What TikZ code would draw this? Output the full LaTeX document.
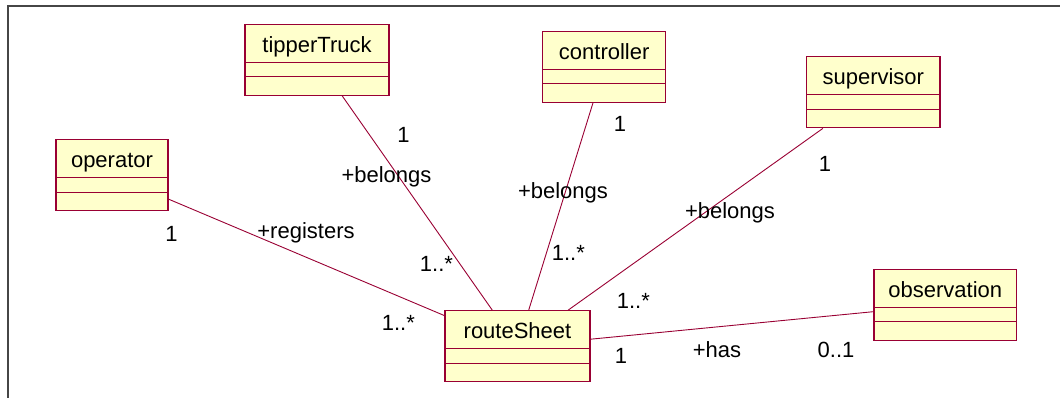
\documentclass[tikz,border=0pt]{standalone}
\usepackage{fontspec}
\setmainfont{Liberation Sans}
\definecolor{classfill}{RGB}{255,255,204}
\definecolor{classedge}{RGB}{153,0,51}
\definecolor{framegray}{RGB}{70,70,70}
\tikzset{
  classbox/.style={draw=classedge, fill=classfill, line width=1.2pt,
    rectangle, inner sep=0pt, minimum height=71pt},
  classline/.style={draw=classedge, line width=1pt},
  classname/.style={anchor=base, inner sep=0pt,
    font=\fontsize{22}{26}\selectfont},
  assoc/.style={draw=classedge, line width=0.9pt},
  lbl/.style={anchor=base, inner sep=0pt,
    font=\fontsize{22}{26}\selectfont},
}
% a UML class: name, centre x, centre y, width, title
\newcommand{\umlclass}[5]{%
  \node[classbox, minimum width=#4] (#1) at (#2,#3) {};
  \draw[classline] ([yshift=-38.5pt]#1.north west) -- ([yshift=-38.5pt]#1.north east);
  \draw[classline] ([yshift=-53pt]#1.north west) -- ([yshift=-53pt]#1.north east);
  \node[classname] (#1-name) at ([yshift=-28.5pt]#1.north) {#5};
}
\begin{document}
\begin{tikzpicture}[x=1pt,y=-1pt]
\useasboundingbox (0,0) rectangle (1060,398);
% diagram frame (top and left edges)
\draw[framegray, line width=1.8pt] (8,398) -- (8,6) -- (1060,6);

% classes
\umlclass{tt}{317}{59.8}{144}{tipperTruck}
\umlclass{ct}{604.2}{66.7}{123}{controller}
\umlclass{sv}{873.3}{92.3}{133.3}{supervisor}
\umlclass{op}{112}{175.3}{112}{operator}
\umlclass{rs}{517.5}{346.3}{145}{routeSheet}
\umlclass{ob}{945.3}{304.7}{142.7}{observation}

% associations
\draw[assoc] (op) -- (rs);
\draw[assoc] (tt) -- (rs);
\draw[assoc] (ct) -- (rs);
\draw[assoc] (sv) -- (rs);
\draw[assoc] (rs) -- (ob);

% operator -- routeSheet
\node[lbl] (opm1) at (171.5,241.7) {1};
\node[lbl] (opr) at (306,238) {+registers};
\node[lbl] (opm2) at (398.3,330) {1..*};
% tipperTruck -- routeSheet
\node[lbl] (ttm1) at (403.5,143) {1};
\node[lbl] (ttr) at (386.5,183) {+belongs};
\node[lbl] (ttm2) at (436.5,271.7) {1..*};
% controller -- routeSheet
\node[lbl] (ctm1) at (620,131.7) {1};
\node[lbl] (ctr) at (563,198.5) {+belongs};
\node[lbl] (ctm2) at (568.3,260) {1..*};
% supervisor -- routeSheet
\node[lbl] (svm1) at (825,171.7) {1};
\node[lbl] (svr) at (730,218.5) {+belongs};
\node[lbl] (svm2) at (633.3,308.3) {1..*};
% routeSheet -- observation
\node[lbl] (obm1) at (621,363.5) {1};
\node[lbl] (obr) at (717,357.5) {+has};
\node[lbl] (obm2) at (836,357) {0..1};
\end{tikzpicture}
\end{document}
